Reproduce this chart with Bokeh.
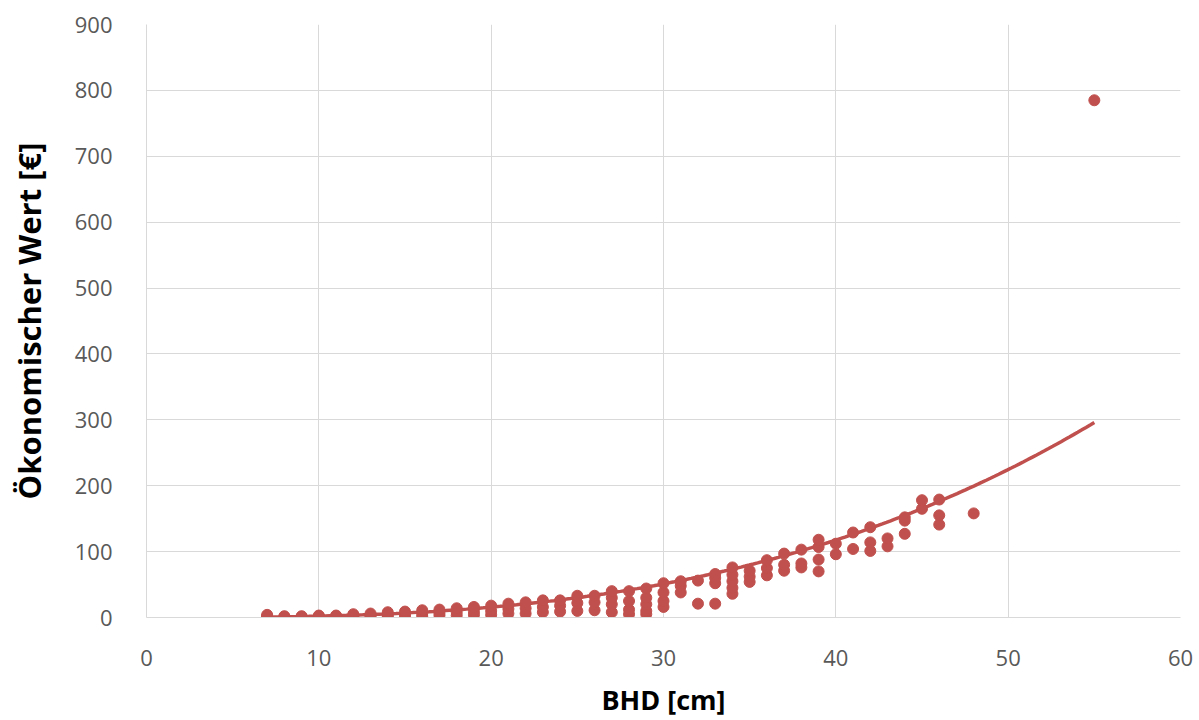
import numpy as np
from bokeh.plotting import figure
from bokeh.models import Range1d, FixedTicker
from bokeh.embed import file_html
from bokeh.resources import INLINE

# --- data (BHD in cm, value in EUR) ---
bhd_groups = {
    7: [1, 2, 4],
    8: [1, 2],
    9: [1, 2],
    10: [1, 2, 3],
    11: [1, 2, 3],
    12: [1, 3, 5],
    13: [1, 3, 6],
    14: [1, 4, 8],
    15: [2, 5, 9],
    16: [2, 6, 11],
    17: [3, 7, 12],
    18: [3, 8, 14],
    19: [4, 9, 16],
    20: [4, 10, 18],
    21: [6, 13, 21],
    22: [6, 14, 23],
    23: [8, 16, 26],
    24: [9, 18, 26],
    25: [10, 22, 33],
    26: [11, 23, 33],
    27: [8, 20, 30, 40],
    28: [5, 12, 25, 40],
    29: [5, 10, 20, 30, 44],
    30: [16, 25, 38, 52],
    31: [38, 48, 55],
    32: [21, 56],
    33: [21, 52, 60, 66],
    34: [36, 45, 55, 65, 76],
    35: [54, 62, 71],
    36: [64, 75, 87],
    37: [71, 80, 97],
    38: [76, 82, 103],
    39: [70, 88, 107, 118],
    40: [96, 112],
    41: [104, 129],
    42: [101, 114, 137],
    43: [108, 120],
    44: [127, 147, 152],
    45: [165, 178],
    46: [141, 155, 179],
    48: [158],
    55: [785],
}
bhd = [k for k, vals in bhd_groups.items() for _ in vals]
wert = [v for vals in bhd_groups.values() for v in vals]

x_ticks = [0, 10, 20, 30, 40, 50, 60]
y_ticks = [0, 100, 200, 300, 400, 500, 600, 700, 800, 900]

# power trendline y = a * x^b (Excel-style), coefficients
trend_b = 2.9
trend_end_x = 55
trend_end_y = 296
trend_a = trend_end_y / trend_end_x ** trend_b
tx = np.linspace(min(bhd), max(bhd), 200)
ty = trend_a * tx ** trend_b

COLOR = "#C0504D"
GRID = "#D9D9D9"
FONT = "Open Sans"

p = figure(frame_width=1034, frame_height=593, width=1199, height=720,
           output_backend="svg", toolbar_location=None,
           x_range=Range1d(0, 60), y_range=Range1d(0, 900),
           min_border_left=146, min_border_right=19,
           min_border_top=24, min_border_bottom=103)
p.outline_line_color = None
p.background_fill_color = "white"
p.border_fill_color = "white"

p.line(tx, ty, line_color=COLOR, line_width=3.5)
p.scatter(bhd, wert, size=11, fill_color=COLOR, line_color=COLOR)

for ax in (p.xaxis[0], p.yaxis[0]):
    ax.axis_line_color = GRID
    ax.major_tick_line_color = None
    ax.minor_tick_line_color = None
    ax.major_label_text_font = FONT
    ax.major_label_text_font_size = "22px"
    ax.major_label_text_color = "#595959"
    ax.axis_label_text_font = FONT
    ax.axis_label_text_font_style = "bold"
    ax.axis_label_text_color = "black"

p.xaxis.axis_label_text_font_size = "27px"
p.yaxis.axis_label_text_font_size = "31px"

p.xaxis.ticker = FixedTicker(ticks=x_ticks)
p.yaxis.ticker = FixedTicker(ticks=y_ticks)
p.xaxis.axis_label = "BHD [cm]"
p.yaxis.axis_label = "Ökonomischer Wert [€]"
p.xaxis.major_label_standoff = 26
p.yaxis.major_label_standoff = 28
p.xaxis.axis_label_standoff = 12
p.yaxis.axis_label_standoff = 22

p.xgrid.grid_line_color = GRID
p.ygrid.grid_line_color = GRID
p.xgrid.ticker = FixedTicker(ticks=x_ticks)
p.ygrid.ticker = FixedTicker(ticks=y_ticks)

open("out.html", "w").write(file_html(p, INLINE))
